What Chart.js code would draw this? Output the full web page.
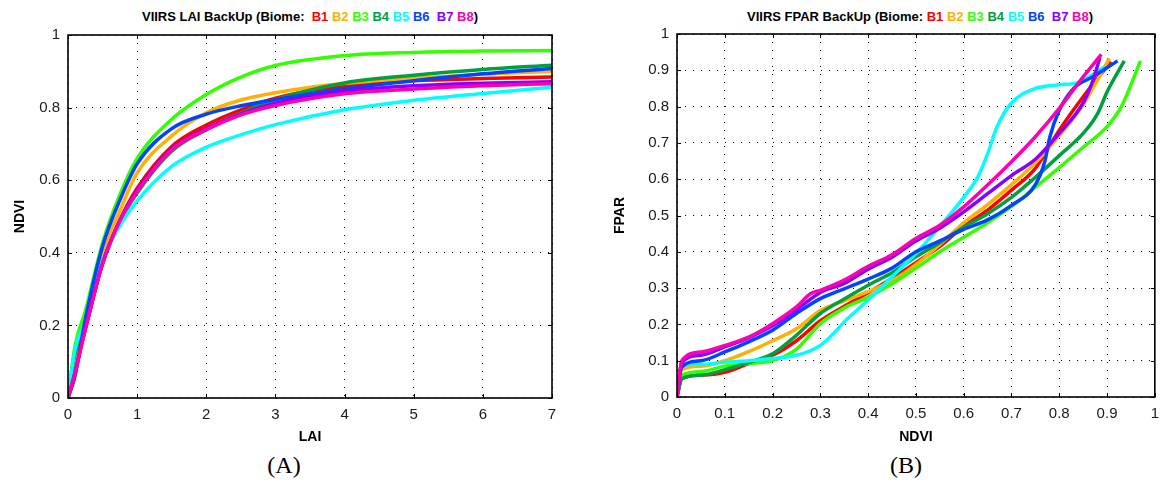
<!DOCTYPE html>
<html>
<head>
<meta charset="utf-8">
<script src="https://cdn.jsdelivr.net/npm/chart.js@4"></script>
<style>
  body { margin: 0; background: #fff; width: 1167px; height: 486px; position: relative; overflow: hidden; }
  canvas { position: absolute; top: 0; }
  .title { position: absolute; top: 9px; font: bold 13px "Liberation Sans", Arial, sans-serif; white-space: pre; transform: translateX(-50%); color: #000; }
  .panel { position: absolute; top: 452px; font: 24px "Liberation Serif", "Times New Roman", serif; transform: translateX(-50%); color: #000; }
</style>
</head>
<body>
<div class="title" style="left:310px">VIIRS LAI BackUp (Biome:  <span style="color:#ff0000">B1</span> <span style="color:#ffb000">B2</span> <span style="color:#33ff00">B3</span> <span style="color:#00a040">B4</span> <span style="color:#00ffff">B5</span> <span style="color:#0044ff">B6</span>  <span style="color:#8800ff">B7</span> <span style="color:#ff00b0">B8</span>)</div>
<div class="title" style="left:920px">VIIRS FPAR BackUp (Biome: <span style="color:#ff0000">B1</span> <span style="color:#ffb000">B2</span> <span style="color:#33ff00">B3</span> <span style="color:#00a040">B4</span> <span style="color:#00ffff">B5</span> <span style="color:#0044ff">B6</span>  <span style="color:#8800ff">B7</span> <span style="color:#ff00b0">B8</span>)</div>
<canvas id="laiChart" width="580" height="450" style="left:0"></canvas>
<canvas id="fparChart" width="567" height="450" style="left:600px"></canvas>
<div class="panel" style="left:284px">(A)</div>
<div class="panel" style="left:906px">(B)</div>
<script>
const biomes = ['B1', 'B2', 'B3', 'B4', 'B5', 'B6', 'B7', 'B8'];
const colors = ['#ff0000', '#ffb000', '#33ff00', '#00a040', '#00ffff', '#0044ff', '#8800ff', '#ff00b0'];

// (A) LAI -> NDVI, all biomes share the LAI samples
const laiX = [0, 0.1, 0.25, 0.5, 0.75, 1, 1.5, 2, 2.5, 3, 4, 5, 6, 7];
const ndviB1 = [0, 0.09, 0.19, 0.372, 0.49, 0.578, 0.693, 0.752, 0.794, 0.826, 0.86, 0.874, 0.88, 0.884];
const ndviB2 = [0, 0.10, 0.20, 0.40, 0.516, 0.62, 0.722, 0.786, 0.821, 0.841, 0.867, 0.881, 0.892, 0.90];
const ndviB3 = [0, 0.142, 0.239, 0.427, 0.56, 0.66, 0.768, 0.836, 0.884, 0.916, 0.943, 0.952, 0.956, 0.957];
const ndviB4 = [0, 0.12, 0.20, 0.37, 0.485, 0.565, 0.68, 0.739, 0.785, 0.822, 0.868, 0.889, 0.905, 0.917];
const ndviB5 = [0, 0.133, 0.21, 0.377, 0.475, 0.543, 0.638, 0.691, 0.725, 0.753, 0.794, 0.82, 0.839, 0.856];
const ndviB6 = [0, 0.059, 0.216, 0.418, 0.545, 0.645, 0.742, 0.782, 0.805, 0.822, 0.852, 0.874, 0.893, 0.908];
const ndviB7 = [0, 0.07, 0.19, 0.372, 0.49, 0.572, 0.686, 0.742, 0.783, 0.812, 0.845, 0.86, 0.867, 0.871];
const ndviB8 = [0, 0.068, 0.188, 0.37, 0.488, 0.568, 0.684, 0.739, 0.78, 0.806, 0.838, 0.851, 0.86, 0.866];

// (B) NDVI -> FPAR, each biome has its own NDVI samples
const fxB1 = [0, 0.01, 0.05, 0.1, 0.15, 0.2, 0.25, 0.3, 0.35, 0.4, 0.45, 0.5, 0.55, 0.6, 0.65, 0.7, 0.75, 0.8, 0.85, 0.908];
const fyB1 = [0, 0.05, 0.06, 0.068, 0.092, 0.115, 0.155, 0.21, 0.25, 0.287, 0.327, 0.37, 0.415, 0.47, 0.515, 0.57, 0.63, 0.735, 0.827, 0.924];
const fxB2 = [0, 0.01, 0.05, 0.1, 0.15, 0.2, 0.25, 0.3, 0.35, 0.4, 0.45, 0.5, 0.55, 0.6, 0.65, 0.7, 0.75, 0.8, 0.85, 0.905];
const fyB2 = [0, 0.075, 0.085, 0.10, 0.125, 0.155, 0.188, 0.238, 0.265, 0.29, 0.32, 0.365, 0.42, 0.48, 0.53, 0.585, 0.645, 0.72, 0.805, 0.933];
const fxB3 = [0, 0.01, 0.05, 0.1, 0.15, 0.2, 0.25, 0.3, 0.35, 0.4, 0.45, 0.5, 0.55, 0.6, 0.65, 0.7, 0.75, 0.8, 0.85, 0.9, 0.93, 0.97];
const fyB3 = [0, 0.06, 0.07, 0.085, 0.092, 0.10, 0.132, 0.202, 0.245, 0.275, 0.312, 0.355, 0.40, 0.44, 0.48, 0.525, 0.578, 0.632, 0.688, 0.745, 0.80, 0.926];
const fxB4 = [0, 0.01, 0.05, 0.1, 0.15, 0.2, 0.25, 0.3, 0.35, 0.4, 0.45, 0.5, 0.55, 0.6, 0.65, 0.7, 0.75, 0.8, 0.85, 0.88, 0.9, 0.936];
const fyB4 = [0, 0.05, 0.06, 0.075, 0.095, 0.119, 0.17, 0.23, 0.27, 0.308, 0.342, 0.386, 0.425, 0.468, 0.505, 0.55, 0.605, 0.665, 0.726, 0.78, 0.84, 0.926];
const fxB5 = [0, 0.01, 0.05, 0.1, 0.15, 0.2, 0.25, 0.28, 0.3, 0.33, 0.35, 0.4, 0.45, 0.5, 0.55, 0.6, 0.63, 0.65, 0.67, 0.7, 0.75, 0.8, 0.84, 0.895];
const fyB5 = [0, 0.087, 0.09, 0.096, 0.10, 0.106, 0.115, 0.128, 0.142, 0.178, 0.207, 0.267, 0.331, 0.395, 0.47, 0.55, 0.607, 0.67, 0.745, 0.81, 0.85, 0.86, 0.866, 0.91];
const fxB6 = [0, 0.01, 0.05, 0.1, 0.15, 0.2, 0.25, 0.3, 0.35, 0.4, 0.45, 0.5, 0.55, 0.6, 0.65, 0.7, 0.75, 0.77, 0.78, 0.8, 0.83, 0.87, 0.922];
const fyB6 = [0, 0.083, 0.10, 0.124, 0.152, 0.184, 0.23, 0.271, 0.298, 0.325, 0.355, 0.40, 0.43, 0.462, 0.488, 0.528, 0.585, 0.65, 0.715, 0.79, 0.85, 0.882, 0.926];
const fxB7 = [0, 0.01, 0.05, 0.1, 0.15, 0.2, 0.25, 0.3, 0.35, 0.4, 0.45, 0.5, 0.55, 0.6, 0.65, 0.7, 0.75, 0.8, 0.85, 0.87, 0.885];
const fyB7 = [0, 0.095, 0.115, 0.138, 0.163, 0.196, 0.24, 0.288, 0.313, 0.352, 0.385, 0.43, 0.465, 0.51, 0.56, 0.61, 0.655, 0.726, 0.81, 0.87, 0.935];
const fxB8 = [0, 0.01, 0.05, 0.1, 0.15, 0.2, 0.25, 0.28, 0.3, 0.35, 0.4, 0.45, 0.5, 0.55, 0.6, 0.65, 0.7, 0.75, 0.8, 0.85, 0.888];
const fyB8 = [0, 0.10, 0.124, 0.142, 0.165, 0.202, 0.248, 0.285, 0.294, 0.322, 0.36, 0.392, 0.437, 0.473, 0.524, 0.584, 0.648, 0.717, 0.795, 0.882, 0.944];

// tick values
const laiTicks = [0, 1, 2, 3, 4, 5, 6, 7];
const ndviTicksA = [0, 0.2, 0.4, 0.6, 0.8, 1];
const ndviTicksB = [0, 0.1, 0.2, 0.3, 0.4, 0.5, 0.6, 0.7, 0.8, 0.9, 1];
const fparTicks = [0, 0.1, 0.2, 0.3, 0.4, 0.5, 0.6, 0.7, 0.8, 0.9, 1];

Chart.defaults.font.family = '"Liberation Sans", Arial, Helvetica, sans-serif';
Chart.defaults.color = '#1a1a1a';

const pairs = (xs, ys) => xs.map((x, i) => ({ x: x, y: ys[i] }));

// black box and small inward tick marks, matlab style
const frame = {
    id: 'frame',
    afterDatasetsDraw(chart) {
        const { ctx, chartArea: a, scales } = chart;
        const x = scales.x, y = scales.y;
        ctx.save();
        ctx.strokeStyle = '#000';
        ctx.lineWidth = 1;
        ctx.beginPath();
        x.ticks.forEach(t => {
            const px = Math.round(x.getPixelForValue(t.value)) + 0.5;
            ctx.moveTo(px, a.bottom); ctx.lineTo(px, a.bottom - 4);
            ctx.moveTo(px, a.top); ctx.lineTo(px, a.top + 4);
        });
        y.ticks.forEach(t => {
            const py = Math.round(y.getPixelForValue(t.value)) + 0.5;
            ctx.moveTo(a.left, py); ctx.lineTo(a.left + 4, py);
            ctx.moveTo(a.right, py); ctx.lineTo(a.right - 4, py);
        });
        ctx.stroke();
        ctx.lineWidth = 1.6;
        ctx.strokeRect(a.left, a.top, a.right - a.left, a.bottom - a.top);
        ctx.restore();
    }
};

function makeAxis(ticksArr, title, size) {
    return {
        type: 'linear',
        min: ticksArr[0],
        max: ticksArr[ticksArr.length - 1],
        afterBuildTicks: scale => { scale.ticks = ticksArr.map(v => ({ value: v })); },
        afterFit: scale => {
            if (scale.isHorizontal()) scale.height = size; else scale.width = size;
        },
        ticks: {
            padding: 8,
            autoSkip: false,
            maxRotation: 0,
            font: { size: 15 },
            color: '#1a1a1a',
            callback: v => String(Number(v.toFixed(2)))
        },
        grid: { color: '#000', lineWidth: 1, drawTicks: false },
        border: { display: false, dash: [1, 7] },
        title: { display: true, text: title, font: { size: 14, weight: 'bold' }, color: '#000' }
    };
}

function makeChart(id, datasets, xAxis, yAxis, padding) {
    return new Chart(document.getElementById(id).getContext('2d'), {
        type: 'line',
        data: { datasets: datasets },
        options: {
            responsive: false,
            animation: false,
            layout: { padding: padding },
            plugins: { legend: { display: false }, tooltip: { enabled: false } },
            elements: { point: { radius: 0 } },
            scales: { x: xAxis, y: yAxis }
        },
        plugins: [frame]
    });
}

const laiSeries = [ndviB1, ndviB2, ndviB3, ndviB4, ndviB5, ndviB6, ndviB7, ndviB8];
const laiDatasets = laiSeries.map((s, i) => ({
    label: biomes[i],
    data: pairs(laiX, s),
    borderColor: colors[i],
    borderWidth: 3.5,
    cubicInterpolationMode: 'monotone',
    order: 8 - i,
    fill: false
}));

const fparX = [fxB1, fxB2, fxB3, fxB4, fxB5, fxB6, fxB7, fxB8];
const fparY = [fyB1, fyB2, fyB3, fyB4, fyB5, fyB6, fyB7, fyB8];
const fparDatasets = fparX.map((xs, i) => ({
    label: biomes[i],
    data: pairs(xs, fparY[i]),
    borderColor: colors[i],
    borderWidth: 3.5,
    cubicInterpolationMode: 'monotone',
    order: 8 - i,
    fill: false
}));

makeChart('laiChart', laiDatasets,
    makeAxis(laiTicks, 'LAI', 52), makeAxis(ndviTicksA, 'NDVI', 60),
    { left: 8, right: 28, top: 35, bottom: 0 });

makeChart('fparChart', fparDatasets,
    makeAxis(ndviTicksB, 'NDVI', 53), makeAxis(fparTicks, 'FPAR', 69),
    { left: 8, right: 5, top: 34, bottom: 0 });
</script>
</body>
</html>
